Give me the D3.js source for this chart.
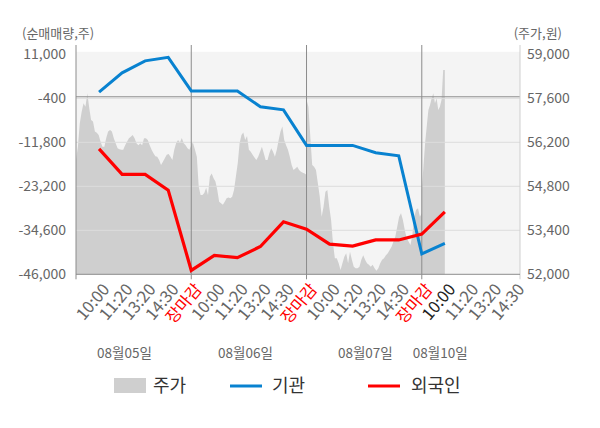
<!DOCTYPE html>
<html>
<head>
<meta charset="utf-8">
<script src="https://cdn.jsdelivr.net/npm/d3@7"></script>
<style>
    body { margin: 0; background: #fff; }
    svg text { font-family: "Noto Sans CJK KR", "Noto Sans", sans-serif; }
</style>
</head>
<body>
<script>
// tick categories along the bottom
var timeLabels = ["10:00", "11:20", "13:20", "14:30", "장마감",
                  "10:00", "11:20", "13:20", "14:30", "장마감",
                  "10:00", "11:20", "13:20", "14:30", "장마감",
                  "10:00", "11:20", "13:20", "14:30"];
var dateLabels = ["08월05일", "08월06일", "08월07일", "08월10일"];

// 기관 / 외국인 net volume at each tick (only up to 08/10 10:00)
var instValues = [1200, 6200, 9300, 10200, 1500,
                  1500, 1500, -2600, -3400, -12600,
                  -12600, -12600, -14500, -15300, -40700,
                  -38000];
var foreignValues = [-13500, -20100, -20100, -24200, -45000,
                     -41100, -41700, -38800, -32400, -34300,
                     -38200, -38700, -37100, -37100, -35600,
                     -29800];

// intraday price (원), one array per trading day
var priceDay1 = [55640, 56060, 56810, 57170, 57440, 57330, 57760, 57290, 56910, 56860,
                 56540, 56500, 56430, 56220, 56060, 56060, 56340, 56540, 56590, 56540,
                 56330, 56170, 56010, 55980, 55960, 55960, 56110, 56220, 56330, 56380,
                 56430, 56330, 56170, 56110, 56170, 56110, 56330, 56330, 56270, 56110,
                 55960, 55850, 55760, 55740, 55640, 55480, 55580, 55690, 55800, 55830,
                 55740, 55640, 55960, 56180, 56270, 56190, 56340, 56170, 56110, 56010,
                 55960, 56110];
var priceDay2 = [56170, 56170, 55960, 55740, 54790, 54520, 54520, 54590, 54750, 54520,
                 55110, 55210, 55060, 54950, 54680, 54310, 54260, 54210, 54310, 54420,
                 54440, 54420, 54470, 54680, 55110, 55530, 56170, 56430, 56510, 56270,
                 56400, 55960, 55900, 55800, 55720, 55640, 55740, 55900, 56060, 55850,
                 55640, 55640, 55850, 56010, 55900, 55740, 55960, 56270, 56540, 56700,
                 56270, 56110, 55960, 55740, 55480, 55320, 55370, 55420, 55320, 55260,
                 55230, 55210, 55160];
var priceDay3 = [57550, 57330, 56380, 55480, 55420, 55320, 54900, 54470, 53830, 54150,
                 54630, 54680, 54150, 53730, 52990, 52510, 52510, 52350, 52140, 52350,
                 52560, 52670, 52350, 52720, 52460, 52240, 52190, 52190, 52240, 52460,
                 52610, 52460, 52350, 52300, 52240, 52300, 52190, 52110, 52190, 52350,
                 52460, 52510, 52610, 52670, 52770, 52880, 53040, 53200, 53510, 53830,
                 53940, 53730, 53410, 53150, 53040, 52930, 53250, 53830, 54050, 54100,
                 53830, 53940];
var priceDay4 = [54680, 55420, 56170, 56700, 57230, 57390, 57600, 57760, 57440, 57600,
                 57230, 57330, 57550, 58500, 58500];

var leftTicks = [11000, -400, -11800, -23200, -34600, -46000];
var rightTicks = [59000, 57600, 56200, 54800, 53400, 52000];

(function() {
    var width = 600,
        height = 428,
        left = 76,
        right = 520,
        top = 54.3,
        bottom = 274.3,
        gray = "#666",
        instColor = "#0882d0",
        foreignColor = "#ff0000",
        fmt = function(v) { return d3.format(",")(v).replace("\u2212", "-"); };

    var svg = d3.select("body").append("svg")
                .attr("width", width)
                .attr("height", height);

    var x = d3.scaleLinear().domain([-1, 18.26]).range([left, right]);
    var yL = d3.scaleLinear().domain([-46000, 11000]).range([bottom, top]);
    var yR = d3.scaleLinear().domain([52000, 59000]).range([bottom, top]);

    // day span in tick-index units: start at previous close, end at close
    var days = [{prices: priceDay1, from: -1, to: 4},
                {prices: priceDay2, from: 4, to: 9},
                {prices: priceDay3, from: 9, to: 14},
                {prices: priceDay4, from: 14, to: 15}];
    var pricePts = [];
    days.forEach(function(d) {
        var n = d.prices.length;
        d.prices.forEach(function(p, i) {
            pricePts.push({t: d.from + (d.to - d.from) * i / (n - 1), v: p});
        });
    });

    svg.append("rect")
       .attr("x", left)
       .attr("y", top - 2.5)
       .attr("width", right - left)
       .attr("height", bottom - top + 2.5)
       .style("fill", "#f4f4f4");

    svg.append("path")
       .datum(pricePts)
       .attr("d", d3.area()
                    .x(function(d) { return x(d.t); })
                    .y0(bottom)
                    .y1(function(d) { return yR(d.v); }))
       .style("fill", "#cfcfcf");

    // grid
    svg.selectAll(".grid")
       .data(leftTicks.slice(1, 5))
       .enter().append("line")
       .attr("class", "grid")
       .attr("x1", left).attr("x2", right)
       .attr("y1", function(d) { return yL(d); })
       .attr("y2", function(d) { return yL(d); })
       .style("stroke", "#dcdcdc");

    svg.append("line")
       .attr("x1", left).attr("x2", right)
       .attr("y1", yL(0)).attr("y2", yL(0))
       .style("stroke", "#909090");

    var closeIdx = [4, 9, 14];
    svg.selectAll(".dayLine")
       .data(closeIdx)
       .enter().append("line")
       .attr("class", "dayLine")
       .attr("x1", function(d) { return x(d); })
       .attr("x2", function(d) { return x(d); })
       .attr("y1", 45).attr("y2", bottom)
       .style("stroke", "#8c8c8c");

    // frame
    svg.append("line").attr("x1", left).attr("x2", left).attr("y1", 45).attr("y2", bottom + 5)
       .style("stroke", "#8c8c8c");
    svg.append("line").attr("x1", right).attr("x2", right).attr("y1", 45).attr("y2", bottom + 5)
       .style("stroke", "#cfcfcf");
    svg.append("line").attr("x1", left).attr("x2", right).attr("y1", bottom).attr("y2", bottom)
       .style("stroke", "#8c8c8c");
    svg.selectAll(".bTick")
       .data(closeIdx)
       .enter().append("line")
       .attr("x1", function(d) { return x(d); })
       .attr("x2", function(d) { return x(d); })
       .attr("y1", bottom).attr("y2", bottom + 5)
       .style("stroke", "#8c8c8c");

    // lines
    var line = d3.line()
                 .x(function(d, i) { return x(i); })
                 .y(function(d) { return yL(d); });

    svg.append("path")
       .datum(instValues)
       .attr("d", line)
       .style("fill", "none")
       .style("stroke", instColor)
       .style("stroke-width", 3);

    svg.append("path")
       .datum(foreignValues)
       .attr("d", line)
       .style("fill", "none")
       .style("stroke", foreignColor)
       .style("stroke-width", 3.2);

    // y labels
    svg.selectAll(".lLabel")
       .data(leftTicks)
       .enter().append("text")
       .attr("x", 66)
       .attr("y", function(d) { return yL(d); })
       .attr("dy", "0.35em")
       .attr("text-anchor", "end")
       .style("font-size", "14px")
       .style("fill", gray)
       .text(fmt);

    svg.selectAll(".rLabel")
       .data(rightTicks)
       .enter().append("text")
       .attr("x", 527)
       .attr("y", function(d) { return yR(d); })
       .attr("dy", "0.35em")
       .style("font-size", "14px")
       .style("fill", gray)
       .text(fmt);

    svg.append("text").attr("x", 22).attr("y", 33).attr("dy", "0.35em")
       .style("font-size", "13px").style("fill", gray).text("(순매매량,주)");
    svg.append("text").attr("x", 562).attr("y", 33).attr("dy", "0.35em")
       .attr("text-anchor", "end")
       .style("font-size", "13px").style("fill", gray).text("(주가,원)");

    // x labels
    svg.selectAll(".xLabel")
       .data(timeLabels)
       .enter().append("text")
       .attr("transform", function(d, i) {
           return "translate(" + (x(i) + 7) + "," + 286 + ") rotate(-50)";
       })
       .attr("text-anchor", "end")
       .attr("dy", "0.35em")
       .style("font-size", "16.5px")
       .style("fill", function(d, i) {
           if (d === "장마감") { return "#ff0000"; }
           if (i === 15) { return "#222"; }
           return gray;
       })
       .text(function(d) { return d; });

    var datePos = [1.1, 6.35, 11.55, 14.8];
    svg.selectAll(".dLabel")
       .data(dateLabels)
       .enter().append("text")
       .attr("x", function(d, i) { return x(datePos[i]); })
       .attr("y", 353)
       .attr("dy", "0.35em")
       .attr("text-anchor", "middle")
       .style("font-size", "13.5px")
       .style("fill", gray)
       .text(function(d) { return d; });

    // legend
    var lg = svg.append("g").attr("transform", "translate(0,386)");
    lg.append("rect").attr("x", 114).attr("y", -8).attr("width", 32).attr("height", 15)
      .style("fill", "#cfcfcf");
    lg.append("text").attr("x", 153).attr("dy", "0.35em").style("font-size", "18px")
      .style("fill", "#333").text("주가");
    lg.append("line").attr("x1", 230).attr("x2", 262).style("stroke", instColor).style("stroke-width", 3);
    lg.append("text").attr("x", 272).attr("dy", "0.35em").style("font-size", "18px")
      .style("fill", "#333").text("기관");
    lg.append("line").attr("x1", 368).attr("x2", 400).style("stroke", foreignColor).style("stroke-width", 3);
    lg.append("text").attr("x", 411).attr("dy", "0.35em").style("font-size", "18px")
      .style("fill", "#333").text("외국인");
})();
</script>
</body>
</html>
